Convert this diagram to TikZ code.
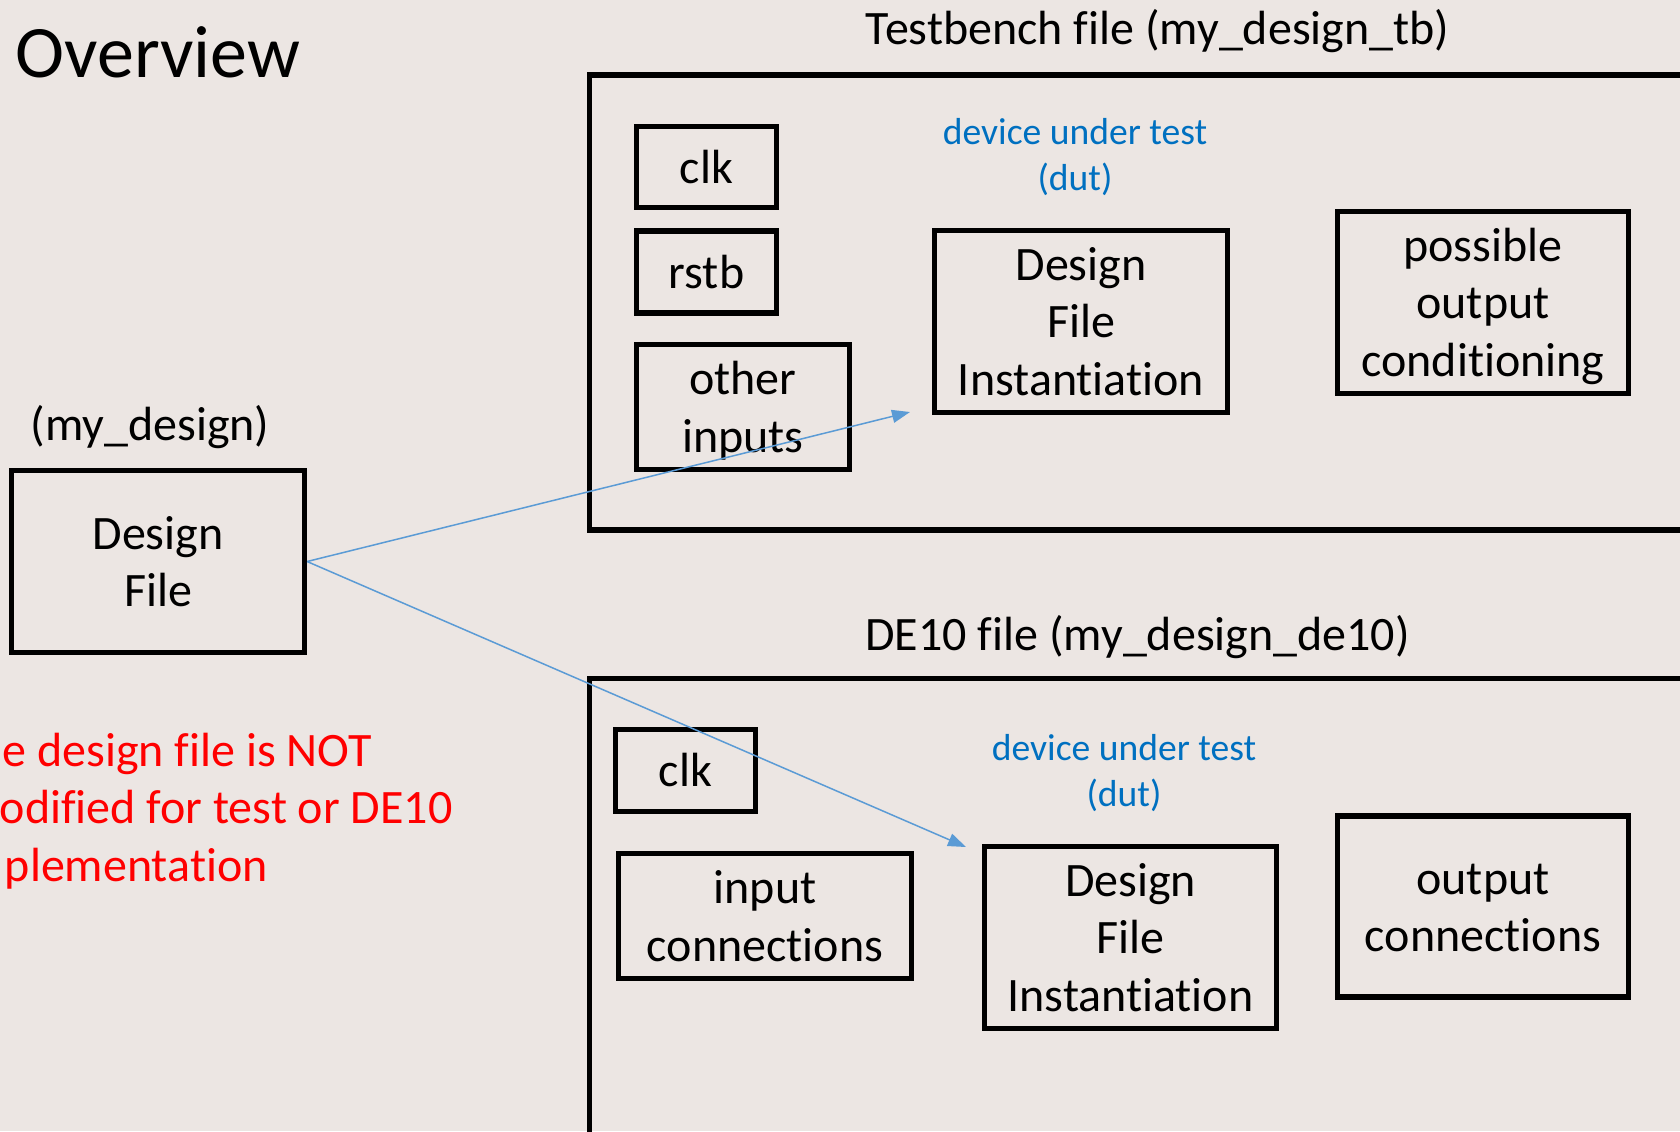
\documentclass[tikz,border=0pt]{standalone}
\usepackage{fontspec}
\setmainfont{Carlito}[Ligatures={NoCommon}]
\usetikzlibrary{arrows.meta}
\definecolor{bgcol}{HTML}{ECE6E3}
\definecolor{dutblue}{HTML}{0070C0}
\definecolor{arrowblue}{HTML}{5B9BD5}
\definecolor{notered}{HTML}{FF0000}
\newcommand\bxstrut{\rule[-0.25em]{0pt}{1.18em}}
\begin{document}
\begin{tikzpicture}[x=0.5pt,y=-0.5pt,
  boxnode/.style={draw=black, line width=2.6pt, rectangle, inner sep=0pt, align=center,
     font=\fontsize{24pt}{28.75pt}\selectfont},
  outerframe/.style={draw=black, line width=2.6pt, rectangle, inner sep=0pt},
  plaintext/.style={inner sep=0pt, font=\fontsize{24pt}{28.75pt}\selectfont},
  titletext/.style={inner sep=0pt, font=\fontsize{37pt}{44pt}\selectfont},
  duttext/.style={inner sep=0pt, align=center, text=dutblue,
     font=\fontsize{18.8pt}{21pt}\selectfont},
  rednote/.style={inner sep=0pt, anchor=base east, text=notered,
     font=\fontsize{24pt}{28.75pt}\selectfont},
  flowarrow/.style={draw=arrowblue, line width=0.75pt, -{Triangle[length=9pt,width=6.5pt]}}
]
\fill[bgcol] (0,0) rectangle (1680,1131);
\useasboundingbox (0,0) rectangle (1680,1131);

% titles
\node[titletext, anchor=base west] (title) at (15,77) {Overview};
\node[plaintext, anchor=base west] (tbtitle) at (865.5,44) {Testbench file (my\_design\_tb)};
\node[plaintext, anchor=base west] (detitle) at (865,650) {DE10 file (my\_design\_de10)};
\node[plaintext, anchor=base] (mdtitle) at (150,440) {(my\_design)};

% outer frames
\node[outerframe, minimum width=555.25pt, minimum height=227.5pt] (tbframe) at (1144.75,302.5) {};
\node[outerframe, minimum width=555.25pt, minimum height=235.75pt] (deframe) at (1144.75,914.25) {};

% design file
\node[boxnode, minimum width=146.5pt, minimum height=91pt] (df) at (158,561.5) {\bxstrut Design\\File\bxstrut};

% testbench contents
\node[boxnode, minimum width=70pt, minimum height=40.5pt] (tbclk) at (706.5,167) {\bxstrut clk};
\node[boxnode, minimum width=70pt, minimum height=41pt] (tbrstb) at (706.5,272) {\bxstrut rstb};
\node[boxnode, minimum width=106.5pt, minimum height=62.5pt] (tbother) at (743,407) {\bxstrut other\\inputs\bxstrut};
\node[duttext] (tbdut) at (1075,155) {\bxstrut device under test\\(dut)\bxstrut};
\node[boxnode, minimum width=146.5pt, minimum height=91pt] (tbdfi) at (1081,321.5) {\bxstrut Design\\File\\Instantiation\bxstrut};
\node[boxnode, minimum width=145.5pt, minimum height=91pt] (tbpoc) at (1483,302.5) {\bxstrut possible\\output\\conditioning\bxstrut};

% DE10 contents
\node[boxnode, minimum width=70pt, minimum height=41pt] (declk) at (685.5,770.5) {\bxstrut clk};
\node[boxnode, minimum width=146.5pt, minimum height=62.5pt] (dein) at (765,916) {\bxstrut input\\connections\bxstrut};
\node[duttext] (dedut) at (1124,771) {\bxstrut device under test\\(dut)\bxstrut};
\node[boxnode, minimum width=146pt, minimum height=91pt] (dedfi) at (1130.5,937.5) {\bxstrut Design\\File\\Instantiation\bxstrut};
\node[boxnode, minimum width=145.5pt, minimum height=90.5pt] (deoc) at (1483,906.5) {\bxstrut output\\connections\bxstrut};

% red note (cut by the slide edge)
\node[rednote] (note1) at (372,766) {e design file is NOT};
\node[rednote] (note2) at (453,823) {odified for test or DE10};
\node[rednote] (note3) at (268,881) {plementation};

% arrows
\coordinate (tbtip) at (910,412);
\coordinate (detip) at (966,847);
\draw[flowarrow] (df.east) -- (tbtip);
\draw[flowarrow] (df.east) -- (detip);
\end{tikzpicture}
\end{document}
